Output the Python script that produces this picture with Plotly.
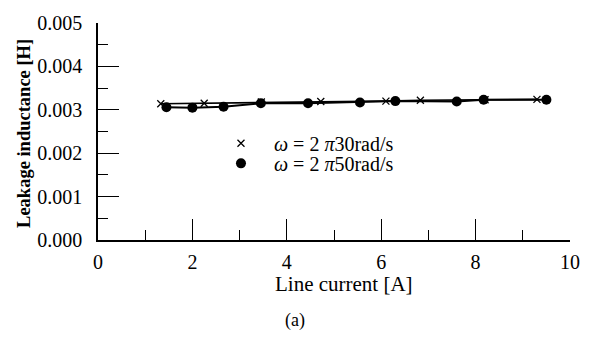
import plotly.graph_objects as go

# Data
current_30 = [1.33, 2.25, 3.46, 4.72, 6.10, 6.83, 8.20, 9.30]
induct_30 = [0.00314, 0.00315, 0.00318, 0.00319, 0.00320, 0.00322, 0.00323, 0.00324]

current_50 = [1.45, 2.00, 2.66, 3.45, 4.45, 5.55, 6.30, 7.60, 8.17, 9.50]
induct_50 = [0.00306, 0.00305, 0.00307, 0.00315, 0.00315, 0.00317, 0.00320, 0.00319, 0.00323, 0.00323]

label_30 = "<i>ω</i> = 2 <i>π</i>30rad/s"
label_50 = "<i>ω</i> = 2 <i>π</i>50rad/s"

x_ticks = [0, 2, 4, 6, 8, 10]
y_ticks = [0.000, 0.001, 0.002, 0.003, 0.004, 0.005]

FONT = "Liberation Serif"

fig = go.Figure()
fig.add_trace(go.Scatter(
    x=current_30, y=induct_30, mode="lines+markers",
    line=dict(color="black", width=1.6),
    marker=dict(symbol="x-thin", size=7, line=dict(color="black", width=1.3)),
    showlegend=False))
fig.add_trace(go.Scatter(
    x=current_50, y=induct_50, mode="lines+markers",
    line=dict(color="black", width=2),
    marker=dict(symbol="circle", size=10, color="black"),
    showlegend=False))
# legend entries (markers only), one legend each for exact placement
fig.add_trace(go.Scatter(x=[None], y=[None], mode="markers", name=label_30, legend="legend",
    marker=dict(symbol="x-thin", size=7, line=dict(color="black", width=1.3))))
fig.add_trace(go.Scatter(x=[None], y=[None], mode="markers", name=label_50, legend="legend2",
    marker=dict(symbol="circle", size=10, color="black")))

leg_common = dict(xanchor="left", yanchor="middle", bgcolor="rgba(0,0,0,0)", borderwidth=0,
                  font=dict(family=FONT, size=20), itemwidth=56)

fig.update_layout(
    width=592, height=342,
    margin=dict(l=98, r=17, t=13, b=102),
    paper_bgcolor="white", plot_bgcolor="white",
    font=dict(family=FONT, size=20, color="black"),
    legend=dict(x=0.233, y=(239.5 - 138.5) / 226.5, **leg_common),
    legend2=dict(x=0.233, y=(239.5 - 159.5) / 226.5, **leg_common),
    xaxis=dict(range=[0, 10], tickvals=x_ticks, ticktext=[str(v) for v in x_ticks],
               ticks="inside", ticklen=21, tickwidth=1.3, tickcolor="black",
               minor=dict(dtick=1, ticks="inside", ticklen=10, tickwidth=1.2, tickcolor="black"),
               showline=True, linecolor="black", linewidth=1.5,
               showgrid=False, zeroline=False, ticklabelstandoff=3),
    yaxis=dict(range=[0, 0.005], tickvals=y_ticks, ticktext=[f"{v:.3f}" for v in y_ticks],
               ticks="inside", ticklen=21, tickwidth=1.3, tickcolor="black",
               minor=dict(dtick=0.0005, ticks="inside", ticklen=10, tickwidth=1.2, tickcolor="black"),
               showline=True, linecolor="black", linewidth=1.5,
               showgrid=False, zeroline=False, ticklabelstandoff=10),
)

fig.add_annotation(text="<b>Leakage inductance [H]</b>", textangle=-90,
                   xref="paper", yref="paper", x=(23 - 98) / 477, y=(239.5 - 128) / 226.5,
                   xanchor="center", yanchor="middle", showarrow=False,
                   font=dict(family=FONT, size=18.5))
fig.add_annotation(text="Line current [A]",
                   xref="paper", yref="paper", x=(347 - 98) / 477, y=(239.5 - 285) / 226.5,
                   xanchor="center", yanchor="middle", showarrow=False,
                   font=dict(family=FONT, size=21))
fig.add_annotation(text="(a)",
                   xref="paper", yref="paper", x=(297 - 98) / 477, y=(239.5 - 324) / 226.5,
                   xanchor="center", yanchor="middle", showarrow=False,
                   font=dict(family=FONT, size=18))

fig.write_html("out.html")
